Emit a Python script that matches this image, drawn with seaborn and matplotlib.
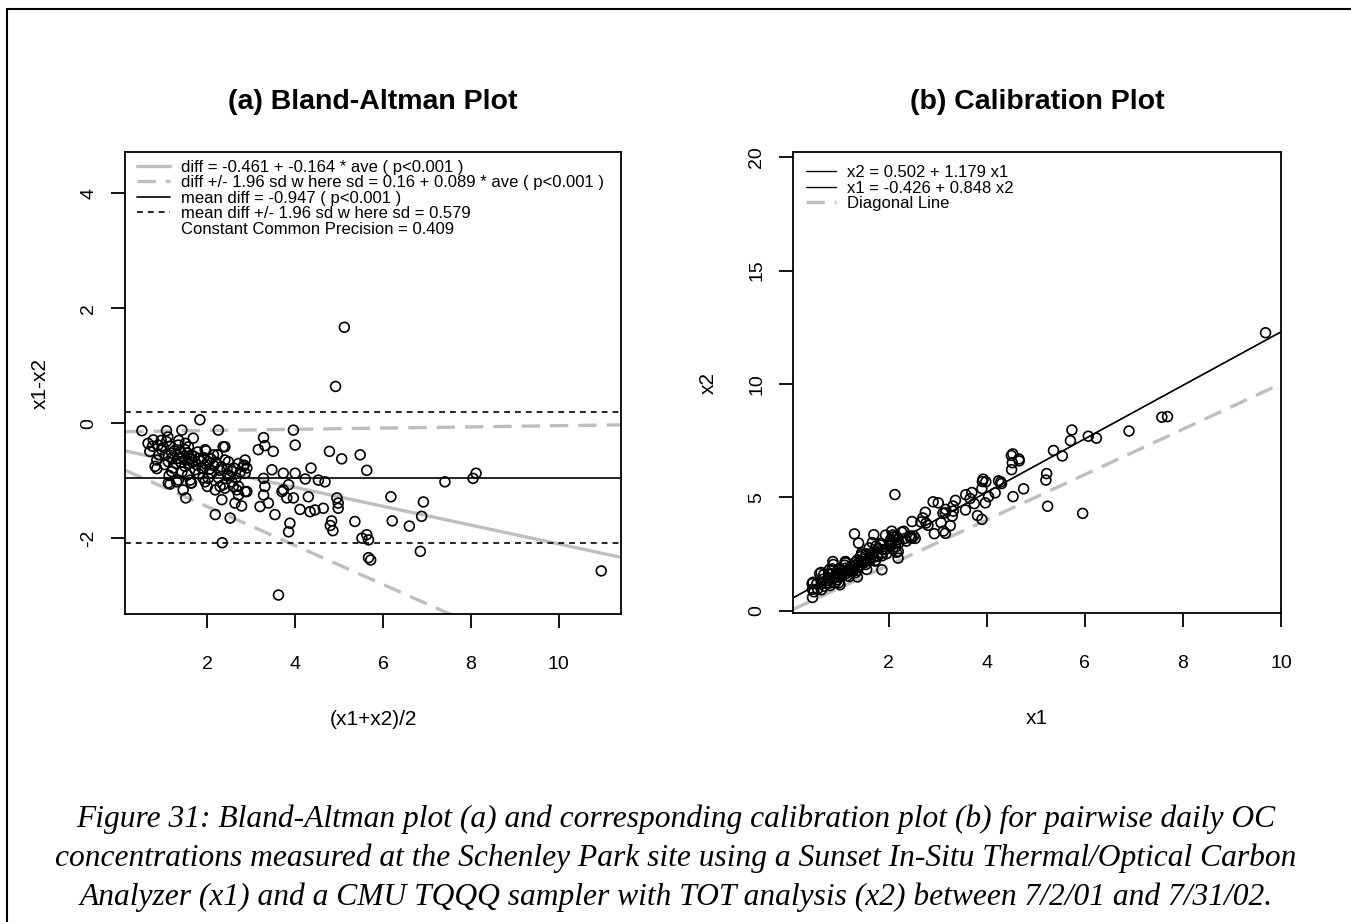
import numpy as np
import pandas as pd
import matplotlib
matplotlib.use("Agg")
import matplotlib.pyplot as plt
import seaborn as sns
from matplotlib.lines import Line2D

# ---------------- data ----------------
# Bland-Altman coordinates: ave = (x1+x2)/2, diff = x1-x2
ave = [5.12, 4.92, 1.83, 0.51, 1.07, 1.42, 2.25, 3.96, 3.28, 3.31, 3.16, 3.50, 4.00, 4.78,
       5.06, 5.48, 5.63, 7.41, 8.05, 8.12, 10.97, 3.62, 2.34, 6.85, 6.88, 6.92, 6.60, 6.21,
       6.18, 5.67, 5.72, 5.63, 5.52, 5.67, 5.36, 4.83, 4.80, 4.86, 4.95, 4.98, 4.98, 4.64,
       4.45, 4.34, 4.11, 4.30, 4.36, 4.23, 4.53, 4.68, 4.00, 3.73, 3.47, 3.28, 3.31, 3.28,
       3.39, 3.20, 3.54, 3.88, 3.85, 3.73, 3.85, 3.81, 3.96, 3.70,
       2.18, 2.52, 2.33, 2.63, 2.78, 2.71, 2.86, 2.59, 2.18, 2.36, 2.02, 2.40, 2.71, 2.56,
       2.90, 2.56, 2.86, 2.48, 2.71, 2.86, 2.82, 2.40, 2.40, 2.48, 2.10, 1.95, 2.02, 2.14,
       2.36, 1.95, 2.23, 1.97, 2.29, 2.67, 2.90, 2.84,
       1.68, 0.77, 0.88, 1.07, 1.34, 0.69, 0.96, 1.19, 1.49, 1.64, 1.80, 1.34, 0.85, 1.11,
       1.49, 0.81, 1.19, 1.72, 1.34, 1.61, 1.11, 1.30, 1.64, 1.45, 1.51, 0.85, 1.57, 1.13,
       1.15, 1.63,
       0.95, 1.00, 1.05, 1.15, 1.20, 1.25, 1.28, 1.32, 1.38, 1.40, 1.45, 1.50, 1.55, 1.58,
       1.60, 1.66, 1.70, 1.75, 1.78, 1.85, 1.88, 1.92, 1.98, 2.05, 2.08, 2.15, 2.20, 2.28,
       2.32, 2.45, 2.52, 2.60, 2.65, 2.75, 0.90, 0.75, 1.02, 1.22, 1.42, 1.55, 1.80, 1.90,
       2.00, 2.25, 1.35, 1.50, 1.10, 0.65]
diff = [1.67, 0.64, 0.06, -0.13, -0.13, -0.12, -0.12, -0.12, -0.25, -0.39, -0.46, -0.49, -0.38, -0.49,
        -0.62, -0.55, -0.82, -1.02, -0.96, -0.87, -2.57, -2.99, -2.08, -2.23, -1.62, -1.37, -1.79, -1.70,
        -1.28, -2.34, -2.38, -1.94, -2.00, -2.03, -1.71, -1.70, -1.78, -1.87, -1.30, -1.39, -1.48, -1.48,
        -1.51, -1.54, -1.50, -1.28, -0.78, -0.97, -0.99, -1.02, -0.87, -0.87, -0.81, -0.96, -1.10, -1.25,
        -1.39, -1.45, -1.59, -1.74, -1.89, -1.16, -1.07, -1.30, -1.30, -1.19,
        -1.59, -1.65, -1.33, -1.39, -1.44, -1.25, -1.19, -1.10, -1.16, -1.07, -0.96, -1.13, -1.10, -1.02,
        -1.19, -0.84, -0.87, -0.67, -0.70, -0.64, -0.75, -0.41, -0.64, -0.90, -0.87, -1.02, -0.67, -0.55,
        -0.41, -0.46, -0.55, -0.48, -1.10, -1.16, -0.78, -0.73,
        -0.26, -0.29, -0.38, -0.32, -0.38, -0.49, -0.46, -0.52, -0.46, -0.55, -0.61, -0.61, -0.64, -0.67,
        -0.75, -0.75, -0.84, -0.81, -0.99, -0.99, -1.04, -1.02, -1.04, -1.16, -1.30, -0.79, -0.41, -0.91,
        -1.06, -1.04,
        -0.30, -0.42, -0.55, -0.40, -0.60, -0.48, -0.70, -0.55, -0.50, -0.68, -0.58, -0.64, -0.52, -0.70,
        -0.62, -0.68, -0.58, -0.72, -0.50, -0.66, -0.78, -0.60, -0.72, -0.80, -0.62, -0.74, -0.68, -0.82,
        -0.76, -0.80, -0.92, -0.78, -0.95, -0.85, -0.55, -0.40, -0.72, -0.78, -0.85, -0.90, -0.88, -0.95,
        -1.10, -0.95, -0.30, -0.35, -0.24, -0.35]

# fitted model summaries shown in the legends
ba_fit = (-0.461, -0.164)      # diff = a + b*ave
sd_fit = (0.16, 0.089)         # sd = a + b*ave
mean_diff = -0.947
sd_const = 0.579
cal_fit = (0.502, 1.179)       # x2 = a + b*x1
inv_fit = (-0.426, 0.848)      # x1 = a + b*x2

legend_a = ["diff = -0.461 + -0.164 * ave ( p<0.001 )",
            "diff +/- 1.96 sd w here sd = 0.16 + 0.089 * ave ( p<0.001 )",
            "mean diff = -0.947 ( p<0.001 )",
            "mean diff +/- 1.96 sd w here sd = 0.579",
            "Constant Common Precision = 0.409"]
legend_b = ["x2 = 0.502 + 1.179 x1", "x1 = -0.426 + 0.848 x2", "Diagonal Line"]

xticks_a = [2, 4, 6, 8, 10]
yticks_a = [-2, 0, 2, 4]
xticks_b = [2, 4, 6, 8, 10]
yticks_b = [0, 5, 10, 15, 20]

caption = ["Figure 31: Bland-Altman plot (a) and corresponding calibration plot (b) for pairwise daily OC",
           "concentrations measured at the Schenley Park site using a Sunset In-Situ Thermal/Optical Carbon",
           "Analyzer (x1) and a CMU TQQQ sampler with TOT analysis (x2) between 7/2/01 and 7/31/02."]

# ---------------- derived ----------------
ba = pd.DataFrame({"ave": ave, "diff": diff})
cal = pd.DataFrame({"x1": ba["ave"] + ba["diff"] / 2, "x2": ba["ave"] - ba["diff"] / 2})

# ---------------- style ----------------
sns.set_theme(style="ticks")
plt.rcParams["font.family"] = ["Liberation Sans", "DejaVu Sans"]
plt.rcParams["axes.unicode_minus"] = False
for k in ("text.color", "axes.labelcolor", "xtick.color", "ytick.color", "axes.edgecolor"):
    plt.rcParams[k] = "black"
plt.rcParams["axes.linewidth"] = 1.3

W, H = 1351, 922
fig = plt.figure(figsize=(W / 100, H / 100), dpi=100)
fig.patch.set_facecolor("white")

def box(l, t, r, b):
    return [l / W, 1 - b / H, (r - l) / W, (b - t) / H]

axA = fig.add_axes(box(125, 152, 621, 614))
axB = fig.add_axes(box(793, 152, 1281, 613))

GRAY = "#BEBEBE"
GLW = 2.4
GDASH = (5.5, 3.0)
BDASH = (3.5, 3.0)
MS = 50
MLW = 1.2

# ---------------- panel (a) ----------------
xa = (0.125, 11.42)
ya = (-3.32, 4.72)
sns.scatterplot(data=ba, x="ave", y="diff", ax=axA, marker="o", s=MS,
                facecolor="none", edgecolor="black", linewidth=MLW, zorder=3)
xs = np.array(xa)
axA.plot(xs, ba_fit[0] + ba_fit[1] * xs, color=GRAY, lw=GLW, solid_capstyle="butt", zorder=2)
up = ba_fit[0] + ba_fit[1] * xs + 1.96 * (sd_fit[0] + sd_fit[1] * xs)
lo = ba_fit[0] + ba_fit[1] * xs - 1.96 * (sd_fit[0] + sd_fit[1] * xs)
axA.plot(xs, up, color=GRAY, lw=GLW, dashes=GDASH, zorder=2)
axA.plot(xs, lo, color=GRAY, lw=GLW, dashes=GDASH, zorder=2)
axA.axhline(mean_diff, color="black", lw=1.2, zorder=2)
axA.axhline(mean_diff + 1.96 * sd_const, color="black", lw=1.2, dashes=BDASH, zorder=2)
axA.axhline(mean_diff - 1.96 * sd_const, color="black", lw=1.2, dashes=BDASH, zorder=2)
axA.set_xlim(*xa)
axA.set_ylim(*ya)
axA.set_xticks(xticks_a)
axA.set_yticks(yticks_a)

hA = [Line2D([], [], color=GRAY, lw=GLW),
      Line2D([], [], color=GRAY, lw=GLW, dashes=GDASH),
      Line2D([], [], color="black", lw=1.2),
      Line2D([], [], color="black", lw=1.2, dashes=BDASH),
      Line2D([], [], linestyle="none")]
legA = axA.legend(hA, legend_a, loc="upper left", bbox_to_anchor=(0.01, 1), borderaxespad=0,
                  fontsize=12, frameon=False,
                  handlelength=1.95, handletextpad=0.65, labelspacing=0.03, borderpad=0.45)

axA.set_title("(a) Bland-Altman Plot", fontsize=20.5, fontweight="bold", pad=31)
axA.set_xlabel("(x1+x2)/2", fontsize=15, labelpad=27)
axA.set_ylabel("x1-x2", fontsize=15, labelpad=22)

# ---------------- panel (b) ----------------
xb = (0.047, 10.0)
yb = (-0.11, 20.23)
sns.scatterplot(data=cal, x="x1", y="x2", ax=axB, marker="o", s=MS,
                facecolor="none", edgecolor="black", linewidth=MLW, zorder=3)
xs = np.array(xb)
axB.plot(xs, cal_fit[0] + cal_fit[1] * xs, color="black", lw=1.0, zorder=2)
yinv = np.array(yb)
axB.plot(inv_fit[0] + inv_fit[1] * yinv, yinv, color="black", lw=1.0, zorder=2)
axB.plot(xs, xs, color=GRAY, lw=GLW, dashes=GDASH, zorder=2)
axB.set_xlim(*xb)
axB.set_ylim(*yb)
axB.set_xticks(xticks_b)
axB.set_yticks(yticks_b)

hB = [Line2D([], [], color="black", lw=1.0),
      Line2D([], [], color="black", lw=1.0),
      Line2D([], [], color=GRAY, lw=GLW, dashes=GDASH)]
legB = axB.legend(hB, legend_b, loc="upper left", bbox_to_anchor=(0, 1), borderaxespad=0,
                  fontsize=12, frameon=False,
                  handlelength=1.75, handletextpad=0.7, labelspacing=0.03, borderpad=0.8)

axB.set_title("(b) Calibration Plot", fontsize=20.5, fontweight="bold", pad=31)
axB.set_xlabel("x1", fontsize=15, labelpad=27)
axB.set_ylabel("x2", fontsize=15, labelpad=22)

for ax in (axA, axB):
    for s in ax.spines.values():
        s.set_visible(True)
        s.set_color("black")
        s.set_linewidth(1.3)
    ax.tick_params(direction="out", length=10, width=1.3, color="black",
                   labelsize=14, labelcolor="black")
    ax.tick_params(axis="x", pad=20)
    ax.tick_params(axis="y", pad=10)
    for lab in ax.get_yticklabels():
        lab.set_rotation(90)
        lab.set_va("center")
    ax.grid(False)

# ---------------- caption and page frame ----------------
cap_y = [819, 858, 897]
cap_texts = []
for yy, line in zip(cap_y, caption):
    cap_texts.append(fig.text(676 / W, 1 - yy / H, line, ha="center", va="center", color="black",
                              fontsize=20, style="italic", family=["Liberation Serif", "DejaVu Serif"]))
# scale the caption so its widest line spans the same width as in the reference
fig.canvas.draw()
rend = fig.canvas.get_renderer()
widest = max(t.get_window_extent(rend).width for t in cap_texts)
scale = 1240.0 / widest
for t in cap_texts:
    t.set_fontsize(t.get_fontsize() * scale)

fig.add_artist(Line2D([7 / W, 7 / W], [0, 1 - 9 / H], transform=fig.transFigure, color="black", lw=1.5))
fig.add_artist(Line2D([7 / W, 1], [1 - 9 / H, 1 - 9 / H], transform=fig.transFigure, color="black", lw=1.5))

fig.savefig("out.png", dpi=100, facecolor="white")
